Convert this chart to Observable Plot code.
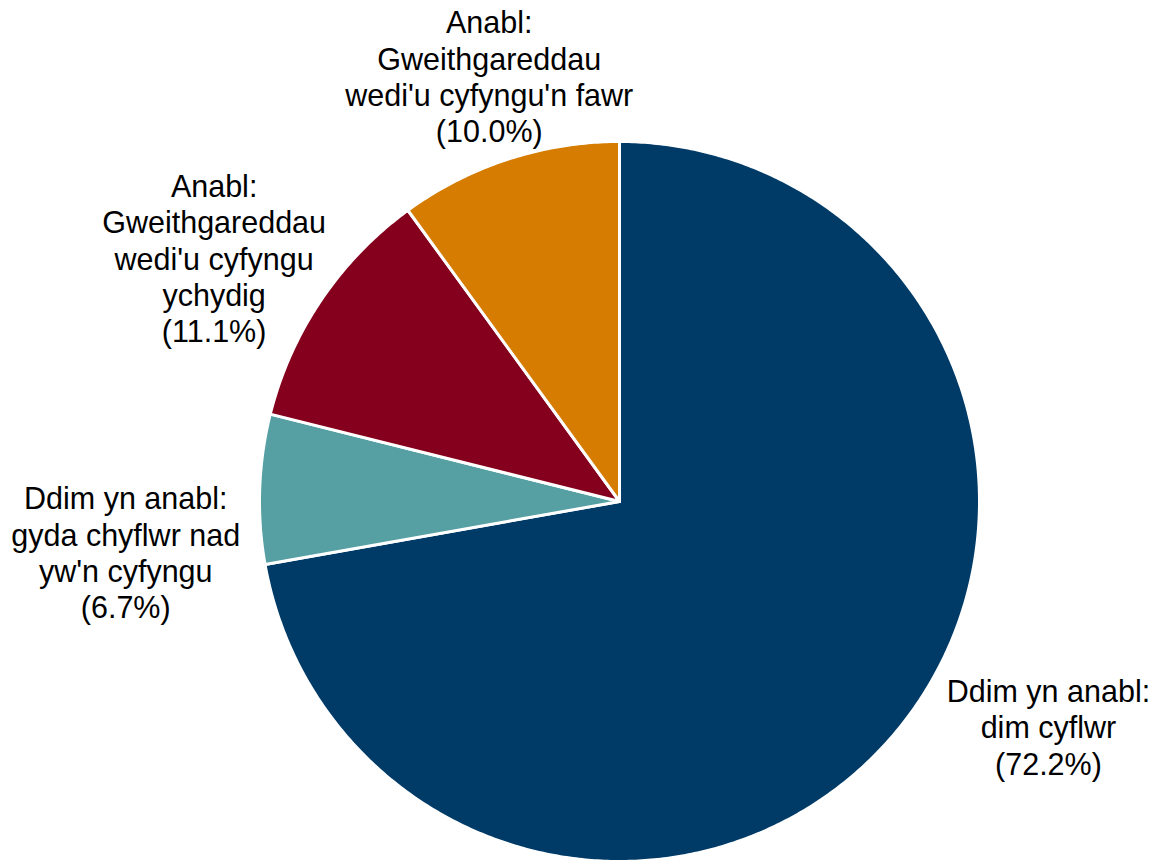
<!DOCTYPE html>
<html>
<head>
<meta charset="utf-8">
<script src="https://cdn.jsdelivr.net/npm/d3@7"></script>
<script src="https://cdn.jsdelivr.net/npm/@observablehq/plot@0.6"></script>
<style>
  html, body { margin: 0; padding: 0; background: #ffffff; }
  #chart svg { display: block; }
</style>
</head>
<body>
<div id="chart"></div>
<script>
// ---- Data ----
const categories = [
  "Ddim yn anabl: dim cyflwr",
  "Ddim yn anabl: gyda chyflwr nad yw'n cyfyngu",
  "Anabl: Gweithgareddau wedi'u cyfyngu ychydig",
  "Anabl: Gweithgareddau wedi'u cyfyngu'n fawr"
];
const values = [72.2, 6.7, 11.1, 10.0];
const labelTexts = [
  "Ddim yn anabl:\ndim cyflwr\n(72.2%)",
  "Ddim yn anabl:\ngyda chyflwr nad\nyw'n cyfyngu\n(6.7%)",
  "Anabl:\nGweithgareddau\nwedi'u cyfyngu\nychydig\n(11.1%)",
  "Anabl:\nGweithgareddau\nwedi'u cyfyngu'n fawr\n(10.0%)"
];
const colors = ["#003b68", "#56a0a3", "#85001c", "#d67c00"];

// ---- Layout (styling, not data) ----
const W = 1156, H = 861;
const CX = 619, CY = 501, R = 360;
const labelOffsets = [[153, -6], [-134, 63], [-107, -42], [-19, -83]];

// ---- Geometry from values ----
const arcs = d3.pie().sort(null).value(d => d)(values);
const slicePts = [];
arcs.forEach((a, i) => {
  const key = categories[i];
  slicePts.push({key, x: 0, y: 0});
  const n = Math.max(8, Math.ceil((a.endAngle - a.startAngle) / (Math.PI / 360)));
  for (let k = 0; k <= n; k++) {
    const t = a.startAngle + (a.endAngle - a.startAngle) * k / n;
    slicePts.push({key, x: Math.sin(t), y: Math.cos(t)});
  }
  slicePts.push({key, x: 0, y: 0});
});

const labelMarks = arcs.map((a, i) => {
  const mid = (a.startAngle + a.endAngle) / 2;
  return Plot.text([{x: Math.sin(mid), y: Math.cos(mid), t: labelTexts[i]}], {
    x: "x", y: "y", text: "t",
    dx: labelOffsets[i][0], dy: labelOffsets[i][1],
    textAnchor: "middle", lineAnchor: "middle", lineHeight: 1.19,
    fontSize: 30.5, fill: "#000000",
    fontFamily: "Liberation Sans, Arial, sans-serif"
  });
});

const chart = Plot.plot({
  width: W, height: H,
  margin: 0,
  x: {domain: [-1, 1], range: [CX - R, CX + R], axis: null},
  y: {domain: [-1, 1], range: [CY + R, CY - R], axis: null},
  color: {domain: categories, range: colors},
  style: {background: "#ffffff", fontFamily: "Liberation Sans, Arial, sans-serif", overflow: "visible"},
  marks: [
    Plot.line(slicePts, {
      x: "x", y: "y", z: "key", fill: "key",
      stroke: "#ffffff", strokeWidth: 3, strokeLinejoin: "round", curve: "linear"
    }),
    ...labelMarks
  ]
});
document.getElementById("chart").appendChild(chart);
</script>
</body>
</html>
